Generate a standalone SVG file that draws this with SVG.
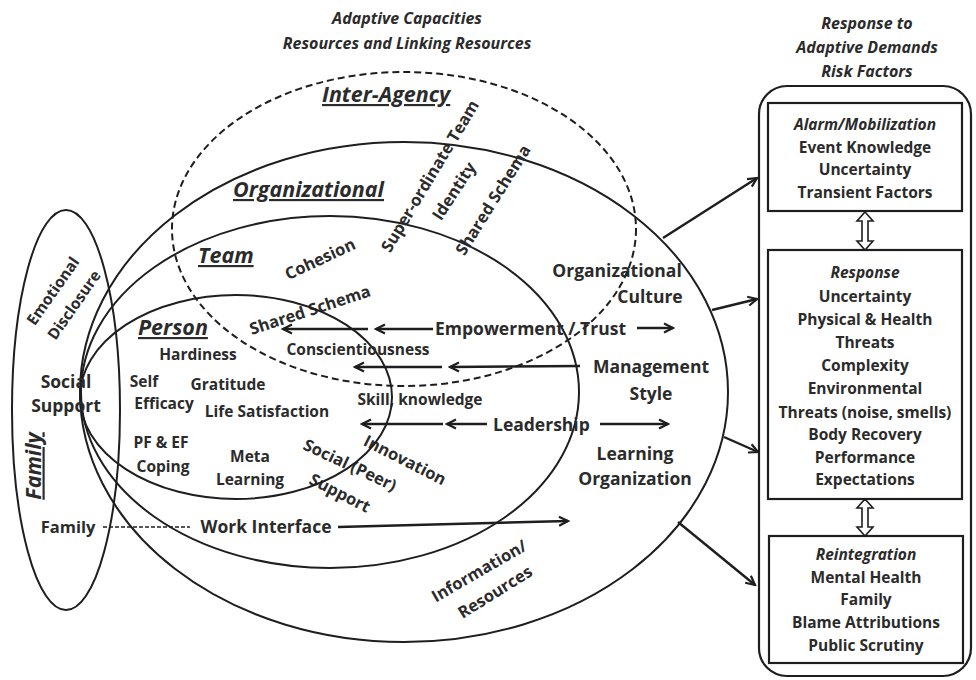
<svg xmlns="http://www.w3.org/2000/svg" width="976" height="680" viewBox="0 0 976 680">
<defs>
<style>
text{font-family:"Open Sans","Liberation Sans",sans-serif;font-weight:bold;fill:#2b2b2b}
.t15{font-size:15.5px}
.ti{font-size:16px;font-style:italic}
.t16{font-size:15.5px}
.t17{font-size:16.5px}
.t18{font-size:17.5px}
.hd{font-size:21.5px;font-style:italic;text-decoration:underline}
.it{font-style:italic}
.c{text-anchor:middle}
.ring{fill:none;stroke:#1e1e1e;stroke-width:2}
.dash{fill:none;stroke:#1e1e1e;stroke-width:2;stroke-dasharray:7 4}
.box{fill:none;stroke:#1e1e1e;stroke-width:2.2}
.ar{fill:none;stroke:#1e1e1e;stroke-width:2.4;marker-end:url(#ah)}
.dbl{fill:#fff;stroke:#1e1e1e;stroke-width:1.6}
</style>
<marker id="ah" viewBox="0 0 12 12" refX="10" refY="6" markerWidth="12" markerHeight="12" markerUnits="userSpaceOnUse" orient="auto">
<path d="M1,1.5 L10,6 L1,10.5" fill="none" stroke="#1e1e1e" stroke-width="2.2"/>
</marker>
</defs>
<rect width="976" height="680" fill="#fff"/>

<g id="titles">
<text class="ti c" x="407" y="24">Adaptive Capacities</text>
<text class="ti c" x="407" y="49">Resources and Linking Resources</text>
<text class="ti c" x="867" y="29">Response to</text>
<text class="ti c" x="867" y="53">Adaptive Demands</text>
<text class="ti c" x="867" y="77">Risk Factors</text>
</g>

<g id="organizational">
<ellipse class="ring" cx="404" cy="392" rx="324" ry="250"/>
<text class="hd" x="233" y="197">Organizational</text>
<text class="t18 c" x="617" y="277">Organizational</text>
<text class="t18 c" x="650" y="303">Culture</text>
<text class="t18 c" x="651" y="373">Management</text>
<text class="t18 c" x="651" y="400">Style</text>
<text class="t18 c" x="635" y="460">Learning</text>
<text class="t18 c" x="635" y="485">Organization</text>
<text class="t17 c" transform="translate(479,571) rotate(-30)" dy="0.35em">Information/</text>
<text class="t17 c" transform="translate(495,592) rotate(-32)" dy="0.35em">Resources</text>
</g>

<g id="team">
<ellipse class="ring" cx="330" cy="392" rx="249" ry="176"/>
<text class="hd" x="198" y="263">Team</text>
<text class="t17 c" transform="translate(320,259) rotate(-25)" dy="0.35em">Cohesion</text>
<text class="t17 c" transform="translate(310,310) rotate(-18)" dy="0.35em">Shared Schema</text>
<text class="t16 c" x="420" y="405">Skill, knowledge</text>
<text class="t17 c" transform="translate(405,460) rotate(27)" dy="0.35em">Innovation</text>
<text class="t17 c" transform="translate(350,465) rotate(25)" dy="0.35em">Social (Peer)</text>
<text class="t17 c" transform="translate(340,493) rotate(27)" dy="0.35em">Support</text>
</g>

<g id="person">
<ellipse class="ring" cx="236" cy="397" rx="156" ry="102"/>
<text class="hd" x="138" y="335">Person</text>
<text class="t16 c" x="198" y="360">Hardiness</text>
<text class="t16 c" x="144" y="387">Self</text>
<text class="t16 c" x="164" y="409">Efficacy</text>
<text class="t16 c" x="228" y="390">Gratitude</text>
<text class="t16 c" x="267" y="417">Life Satisfaction</text>
<text class="t16 c" x="161" y="448">PF &amp; EF</text>
<text class="t16 c" x="163" y="472">Coping</text>
<text class="t16 c" x="250" y="462">Meta</text>
<text class="t16 c" x="250" y="485">Learning</text>
<text class="t16 c" x="358" y="355">Conscientiousness</text>
</g>

<g id="inter-agency">
<ellipse class="dash" cx="404" cy="229" rx="232" ry="157"/>
<text class="hd" x="322" y="102">Inter-Agency</text>
<text class="t17 c" transform="translate(430,176) rotate(-59)" dy="0.35em">Super-ordinate Team</text>
<text class="t17 c" transform="translate(454,191) rotate(-57)" dy="0.35em">Identity</text>
<text class="t17 c" transform="translate(493,200) rotate(-58)" dy="0.35em">Shared Schema</text>
</g>

<g id="family">
<ellipse class="ring" cx="66" cy="410" rx="54" ry="200"/>
<text class="hd c" transform="translate(33,466) rotate(-90)" dy="0.35em">Family</text>
<text class="t16 c" transform="translate(53,291) rotate(-55)" dy="0.35em">Emotional</text>
<text class="t16 c" transform="translate(74,305) rotate(-55)" dy="0.35em">Disclosure</text>
<text class="t18 c" x="66" y="388">Social</text>
<text class="t18 c" x="66" y="412">Support</text>
<text class="t17 c" x="68" y="533">Family</text>
</g>

<g id="links-text">
<text class="t18" x="435" y="335">Empowerment / Trust</text>
<text class="t18" x="493" y="431">Leadership</text>
<text class="t18 c" x="266" y="533">Work Interface</text>
</g>

<g id="response-panel">
<rect class="box" x="759" y="86" width="212" height="590" rx="28"/>
<g id="alarm">
<rect class="box" x="768" y="103" width="194" height="108"/>
<text class="t15 it c" x="865" y="130">Alarm/Mobilization</text>
<text class="t15 c" x="865" y="153">Event Knowledge</text>
<text class="t15 c" x="865" y="175">Uncertainty</text>
<text class="t15 c" x="865" y="198">Transient Factors</text>
</g>
<g id="response">
<rect class="box" x="768" y="250" width="194" height="249"/>
<text class="t15 it c" x="865" y="278">Response</text>
<text class="t15 c" x="865" y="302">Uncertainty</text>
<text class="t15 c" x="865" y="325">Physical &amp; Health</text>
<text class="t15 c" x="865" y="348">Threats</text>
<text class="t15 c" x="865" y="371">Complexity</text>
<text class="t15 c" x="865" y="394">Environmental</text>
<text class="t15 c" x="865" y="418">Threats (noise, smells)</text>
<text class="t15 c" x="865" y="440">Body Recovery</text>
<text class="t15 c" x="865" y="463">Performance</text>
<text class="t15 c" x="865" y="485">Expectations</text>
</g>
<g id="reintegration">
<rect class="box" x="769" y="536" width="194" height="127"/>
<text class="t15 it c" x="866" y="560">Reintegration</text>
<text class="t15 c" x="866" y="583">Mental Health</text>
<text class="t15 c" x="866" y="605">Family</text>
<text class="t15 c" x="866" y="628">Blame Attributions</text>
<text class="t15 c" x="866" y="651">Public Scrutiny</text>
</g>
</g>

<g id="connectors">
<path class="dbl" d="M865,212 L873,221 L868,221 L868,241 L873,241 L865,250 L857,241 L862,241 L862,221 L857,221 Z"/>
<path class="dbl" d="M865,499 L873,508 L868,508 L868,527 L873,527 L865,536 L857,527 L862,527 L862,508 L857,508 Z"/>
<line class="ar" x1="663" y1="238" x2="757" y2="178"/>
<line class="ar" x1="712" y1="310" x2="757" y2="299"/>
<line class="ar" x1="724" y1="437" x2="758" y2="452"/>
<line class="ar" x1="678" y1="522" x2="755" y2="585"/>
<line class="ar" x1="368" y1="329" x2="283" y2="329"/>
<line class="ar" x1="433" y1="329" x2="376" y2="329"/>
<line class="ar" x1="637" y1="328" x2="673" y2="328"/>
<line class="ar" x1="442" y1="367" x2="355" y2="367"/>
<line class="ar" x1="580" y1="366" x2="450" y2="367"/>
<line class="ar" x1="443" y1="424" x2="362" y2="424"/>
<line class="ar" x1="487" y1="424" x2="447" y2="424"/>
<line class="ar" x1="600" y1="424" x2="668" y2="424"/>
<line x1="103" y1="527" x2="190" y2="527" stroke="#1e1e1e" stroke-width="1.6" stroke-dasharray="4 2"/>
<line class="ar" x1="338" y1="527" x2="568" y2="521"/>
</g>
</svg>
